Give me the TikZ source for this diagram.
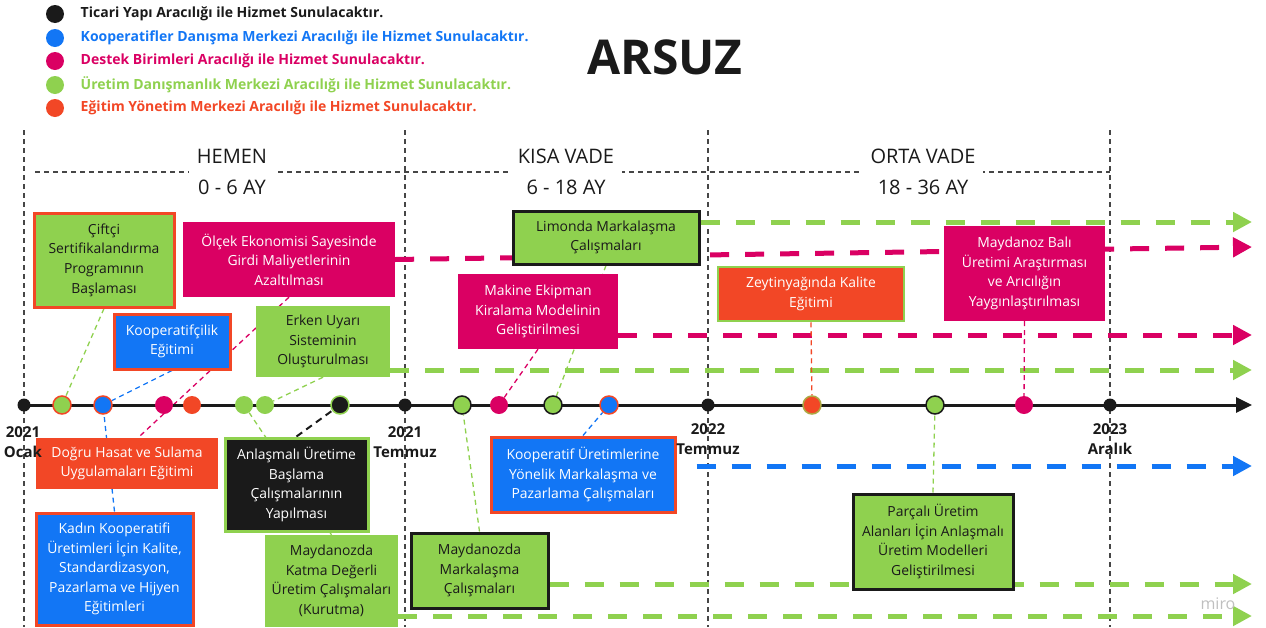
\documentclass[tikz,border=0pt]{standalone}
\usepackage{fontspec}
\setmainfont{Open Sans}
\usetikzlibrary{calc,positioning,arrows.meta}
\pgfdeclarelayer{bg}
\pgfsetlayers{bg,main}

\definecolor{mgreen}{RGB}{143,209,79}
\definecolor{mmag}{RGB}{218,0,99}
\definecolor{mblue}{RGB}{18,118,245}
\definecolor{morange}{RGB}{242,71,38}
\definecolor{mblack}{RGB}{26,26,26}
\definecolor{sepgray}{RGB}{70,70,70}

\newcommand{\boxfont}{\fontsize{13.9}{19.6}\selectfont}

\begin{document}
\begin{tikzpicture}[x=1pt, y=-1pt,
  box/.style={rectangle, align=center, font=\boxfont, inner sep=2pt},
  grn/.style={box, fill=mgreen, text=mblack},
  mag/.style={box, fill=mmag, text=white},
  blu/.style={box, fill=mblue, text=white},
  org/.style={box, fill=morange, text=white},
  blk/.style={box, fill=mblack, text=white},
  rim/.style={draw=#1, line width=3pt},
  dot/.style={circle, minimum size=18pt, inner sep=0pt},
  blkdot/.style={circle, fill=mblack, minimum size=13pt, inner sep=0pt},
  lnk/.style={draw=#1, line width=1.3pt, dash pattern=on 5pt off 4pt},
  dur/.style={draw=#1, line width=5pt, dash pattern=on 19pt off 16pt,
              -{Triangle[length=19pt, width=19pt]}},
  vline/.style={draw=sepgray, line width=1.1pt, dash pattern=on 5pt off 4pt},
  per/.style={fill=white, align=center, text=mblack,
              font=\fontsize{20}{31}\selectfont, inner xsep=8pt, inner ysep=0pt},
  date/.style={align=center, text=mblack, font=\fontsize{15}{20}\selectfont\bfseries},
  leg/.style={font=\fontsize{14}{15}\selectfont\bfseries}
]
  \useasboundingbox (0,0) rectangle (1266,627);

  % legend and title
  \node[font=\fontsize{48}{50}\selectfont\bfseries, text=mblack] (title) at (665,57) {ARSUZ};

  \node[dot, fill=mblack]  (k1) at (55,14) {};
  \node[dot, fill=mblue]   (k2) at (55,38) {};
  \node[dot, fill=mmag]    (k3) at (55,61) {};
  \node[dot, fill=mgreen]  (k4) at (55,85) {};
  \node[dot, fill=morange] (k5) at (55,108) {};
  \node[leg, text=mblack,  right=13pt of k1] (l1) {Ticari Yapı Aracılığı ile Hizmet Sunulacaktır.};
  \node[leg, text=mblue,   right=13pt of k2] (l2) {Kooperatifler Danışma Merkezi Aracılığı ile Hizmet Sunulacaktır.};
  \node[leg, text=mmag,    right=13pt of k3] (l3) {Destek Birimleri Aracılığı ile Hizmet Sunulacaktır.};
  \node[leg, text=mgreen,  right=13pt of k4] (l4) {Üretim Danışmanlık Merkezi Aracılığı ile Hizmet Sunulacaktır.};
  \node[leg, text=morange, right=13pt of k5] (l5) {Eğitim Yönetim Merkezi Aracılığı ile Hizmet Sunulacaktır.};

  % periods
  \node[per] (hemen) at (232,172) {HEMEN\\0 - 6 AY};
  \node[per] (kisa)  at (566,172) {KISA VADE\\6 - 18 AY};
  \node[per] (orta)  at (923,172) {ORTA VADE\\18 - 36 AY};

  % timeline
  \node[blkdot] (t0) at (24,405) {};
  \node[blkdot] (t1) at (405,405) {};
  \node[blkdot] (t2) at (708,405) {};
  \node[blkdot] (t3) at (1110,405) {};
  \coordinate (tend) at (1252,405);

  \node[dot, fill=mgreen, draw=morange, line width=1.5pt] (d1) at (62,405) {};
  \node[dot, fill=mblue, draw=morange, line width=1.5pt]  (d2) at (103,405) {};
  \node[dot, fill=mmag]    (d3) at (164,405) {};
  \node[dot, fill=morange] (d4) at (192,405) {};
  \node[dot, fill=mgreen]  (d5) at (244,405) {};
  \node[dot, fill=mgreen]  (d6) at (265,405) {};
  \node[dot, fill=mblack, draw=mgreen, line width=1.5pt] (d7) at (340,405) {};
  \node[dot, fill=mgreen, draw=mblack, line width=1.5pt] (d8) at (462,405) {};
  \node[dot, fill=mmag]    (d9) at (499,405) {};
  \node[dot, fill=mgreen, draw=mblack, line width=1.5pt] (d10) at (553,405) {};
  \node[dot, fill=mblue, draw=morange, line width=1.5pt] (d11) at (609,405) {};
  \node[dot, fill=morange, draw=mgreen!70!morange, line width=1.5pt] (d12) at (812,405) {};
  \node[dot, fill=mgreen, draw=mblack, line width=1.5pt] (d13) at (935,405) {};
  \node[dot, fill=mmag]    (d14) at (1024,405) {};

  % upper boxes
  \node[grn, rim=morange, minimum width=140pt, minimum height=94pt] (cif) at (104,260)
       {Çiftçi\\Sertifikalandırma\\Programının\\Başlaması};
  \node[mag, minimum width=212pt, minimum height=75pt] (olcek) at (289,259.5)
       {Ölçek Ekonomisi Sayesinde\\Girdi Maliyetlerinin\\Azaltılması};
  \node[blu, rim=morange, minimum width=116pt, minimum height=55pt] (koop) at (172,341.5)
       {Kooperatifçilik\\Eğitimi};
  \node[grn, minimum width=134pt, minimum height=71pt] (erken) at (323,341.5)
       {Erken Uyarı\\Sisteminin\\Oluşturulması};
  \node[grn, rim=mblack, minimum width=186pt, minimum height=53pt] (limon) at (606,237.5)
       {Limonda Markalaşma\\Çalışmaları};
  \node[mag, minimum width=160pt, minimum height=75pt] (makine) at (538,311.5)
       {Makine Ekipman\\Kiralama Modelinin\\Geliştirilmesi};
  \node[org, draw=mgreen, line width=2.5pt, minimum width=186pt, minimum height=54pt] (zeytin) at (811,294)
       {Zeytinyağında Kalite\\Eğitimi};
  \node[mag, minimum width=161pt, minimum height=95pt] (bal) at (1024.5,273.5)
       {Maydanoz Balı\\Üretimi Araştırması\\ve Arıcılığın\\Yaygınlaştırılması};

  % lower boxes
  \node[org, minimum width=182pt, minimum height=51pt] (dogru) at (127,463.5)
       {Doğru Hasat ve Sulama\\Uygulamaları Eğitimi};
  \node[blu, rim=morange, minimum width=157pt, minimum height=112pt] (kad) at (114.5,569)
       {Kadın Kooperatifi\\Üretimleri İçin Kalite,\\Standardizasyon,\\Pazarlama ve Hijyen\\Eğitimleri};
  \node[blk, rim=mgreen, minimum width=143pt, minimum height=93pt] (anl) at (296.5,484.5)
       {Anlaşmalı Üretime\\Başlama\\Çalışmalarının\\Yapılması};
  \node[grn, minimum width=133pt, minimum height=92pt] (katma) at (331.5,581)
       {Maydanozda\\Katma Değerli\\Üretim Çalışmaları\\(Kurutma)};
  \node[grn, rim=mblack, minimum width=137pt, minimum height=75pt] (mmark) at (479.5,570.5)
       {Maydanozda\\Markalaşma\\Çalışmaları};
  \node[blu, rim=morange, minimum width=184pt, minimum height=75pt] (kup) at (583,474.5)
       {Kooperatif Üretimlerine\\Yönelik Markalaşma ve\\Pazarlama Çalışmaları};
  \node[grn, rim=mblack, minimum width=160pt, minimum height=95pt] (parcali) at (933,541.5)
       {Parçalı Üretim\\Alanları İçin Anlaşmalı\\Üretim Modelleri\\Geliştirilmesi};

  % dates
  \node[date] (l0) at (23,442) {2021\\Ocak};
  \node[date] (l1) at (405,442) {2021\\Temmuz};
  \node[date] (l2) at (708,439) {2022\\Temmuz};
  \node[date] (l3) at (1110,439) {2023\\Aralık};

  \node[font=\fontsize{16}{16}\selectfont, text=black!25] (miro) at (1218,604) {miro};

  \coordinate (eLimon) at (1252,222);
  \coordinate (eOlcek) at (1252,247);
  \coordinate (eMak)   at (1252,335);
  \coordinate (eErk)   at (1252,370);
  \coordinate (eKup)   at (1252,466);
  \coordinate (eMm)    at (1252,584);
  \coordinate (eKat)   at (1252,616);

  \begin{pgfonlayer}{bg}
    \draw[vline] (24,130) -- (24,627);
    \draw[vline] (405,130) -- (405,627);
    \draw[vline] (708,130) -- (708,627);
    \draw[vline] (1110,130) -- (1110,627);
    \draw[vline] (35,172) -- (1110,172);

    \draw[dur=mgreen] (limon.east |- eLimon) -- (eLimon);
    \draw[dur=mmag]   (olcek.east) -- (eOlcek);
    \draw[dur=mmag]   (makine.east |- eMak) -- (eMak);
    \draw[dur=mgreen] (erken.east |- eErk) -- (eErk);
    \draw[dur=mblue]  ($(kup.east |- eKup)+(20,0)$) -- (eKup);
    \draw[dur=mgreen] (mmark.east |- eMm) -- (eMm);
    \draw[dur=mgreen] (katma.east |- eKat) -- (eKat);

    \draw[lnk=mgreen] (cif.south) -- (d1);
    \draw[lnk=mblue]  (koop.south) -- (d2);
    \draw[lnk=mblue]  (kad.north) -- (d2);
    \draw[lnk=mmag]   (olcek.south) -- ($(dogru.north)+(11,0)$);
    \draw[lnk=mgreen] (erken.south) -- (d6);
    \draw[lnk=mgreen] (d5) -- (katma.north);
    \draw[lnk=mblack, line width=2pt, dash pattern=on 7pt off 5pt] (anl.north) -- (d7);
    \draw[lnk=mgreen] (mmark.north) -- (d8);
    \draw[lnk=mmag]   (makine.south) -- (d9);
    \draw[lnk=mgreen] (limon.south) -- (d10);
    \draw[lnk=mblue]  (kup.north) -- (d11);
    \draw[lnk=morange] (zeytin.south) -- (d12);
    \draw[lnk=mgreen] (parcali.north) -- (d13);
    \draw[lnk=mmag]   (bal.south) -- (d14);

    \draw[line width=3pt, draw=mblack, -{Triangle[length=16pt, width=15pt]}] (t0.center) -- (tend);
  \end{pgfonlayer}

\end{tikzpicture}
\end{document}
